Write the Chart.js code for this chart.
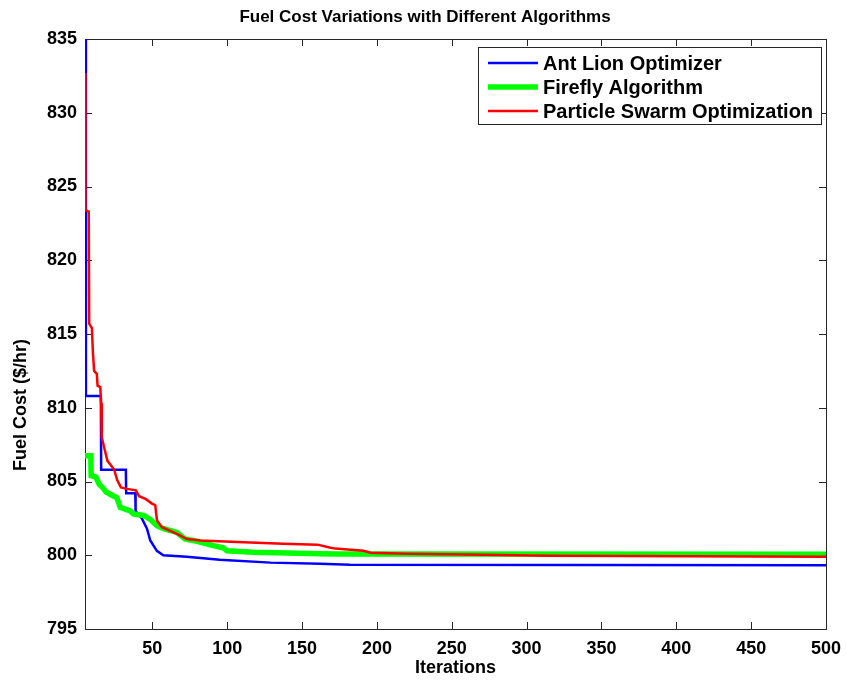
<!DOCTYPE html>
<html>
<head>
<meta charset="utf-8">
<script src="https://cdn.jsdelivr.net/npm/chart.js@4.4.0/dist/chart.umd.min.js"></script>
<style>
  html, body { margin: 0; padding: 0; background: #fff; }
</style>
</head>
<body>
<canvas id="fuelChart" width="847" height="681"></canvas>
<script>
// values (iteration, $/hr)
const aloIter = [5.5, 5.6, 15.6, 15.8, 32.3, 32.5, 38.6, 38.8, 43, 46.4, 48.6, 53, 57.3, 73, 95, 129, 162, 182, 500];
const aloCost = [845, 810.8, 810.8, 805.8, 805.8, 804.2, 804.2, 803.0, 802.5, 801.8, 801.0, 800.3, 800.0, 799.9, 799.7, 799.5, 799.43, 799.36, 799.32];

const faIter = [5, 8.9, 9.1, 12.3, 14.5, 16.7, 19, 23.4, 26.3, 28.5, 35.2, 37.4, 44.1, 48.4, 53.1, 57.5, 66.4, 71.8, 79.8, 90.7, 97.4, 99.9, 117.4, 140, 162, 172, 500];
const faCost = [806.75, 806.75, 805.4, 805.3, 804.8, 804.6, 804.3, 804.05, 803.9, 803.25, 803.0, 802.8, 802.7, 802.45, 802.0, 801.8, 801.55, 801.1, 800.95, 800.65, 800.5, 800.3, 800.2, 800.15, 800.1, 800.08, 800.06];

const psoIter = [5, 5.3, 7.5, 7.8, 9.6, 10.3, 11.1, 12.9, 13.4, 15.2, 15.8, 16.2, 17.8, 20, 22.3, 24.5, 26.5, 29, 33.2, 39, 41.2, 45.7, 49.7, 51.9, 53.1, 56.4, 60.8, 66.4, 73.1, 82, 106.7, 137.5, 160.3, 169, 172.3, 191, 195.8, 220, 271, 316, 500];
const psoCost = [832.7, 823.4, 823.3, 815.7, 815.4, 813.7, 812.5, 812.3, 811.5, 811.4, 810.3, 808.0, 807.3, 806.4, 806.1, 805.8, 805.1, 804.6, 804.5, 804.4, 804.0, 803.8, 803.5, 803.4, 802.35, 801.9, 801.7, 801.45, 801.1, 801.0, 800.9, 800.78, 800.72, 800.51, 800.45, 800.31, 800.17, 800.1, 800.04, 799.97, 799.9];

const xTicks = [50, 100, 150, 200, 250, 300, 350, 400, 450, 500];
const yTicks = [795, 800, 805, 810, 815, 820, 825, 830, 835];

const seriesNames = ['Ant Lion Optimizer', 'Firefly Algorithm', 'Particle Swarm Optimization'];

const FONT = '"Liberation Sans", Arial, sans-serif';
Chart.defaults.font.family = FONT;

const toPoints = (xs, ys) => xs.map((x, i) => ({ x: x, y: ys[i] }));

// box, inward ticks, titles and the legend, MATLAB style
const frame = {
  id: 'frame',
  beforeDatasetsDraw(chart) {
    const { ctx, chartArea: a, scales: { x, y } } = chart;
    ctx.save();
    ctx.strokeStyle = '#262626';
    ctx.lineWidth = 1;
    ctx.strokeRect(Math.round(a.left) + 0.5, Math.round(a.top) + 0.5, Math.round(a.width), Math.round(a.height));
    ctx.beginPath();
    xTicks.forEach(v => {
      const px = Math.round(x.getPixelForValue(v)) + 0.5;
      ctx.moveTo(px, a.bottom); ctx.lineTo(px, a.bottom - 7);
      ctx.moveTo(px, a.top); ctx.lineTo(px, a.top + 7);
    });
    yTicks.forEach(v => {
      const py = Math.round(y.getPixelForValue(v)) + 0.5;
      ctx.moveTo(a.left, py); ctx.lineTo(a.left + 7, py);
      ctx.moveTo(a.right, py); ctx.lineTo(a.right - 7, py);
    });
    ctx.stroke();
    ctx.restore();
  },
  afterDatasetsDraw(chart) {
    const { ctx, chartArea: a } = chart;
    ctx.save();
    ctx.fillStyle = '#000';
    ctx.textAlign = 'center';
    ctx.textBaseline = 'middle';
    ctx.font = 'bold 17px ' + FONT;
    ctx.fillText('Fuel Cost Variations with Different Algorithms', 425, 17);
    ctx.font = 'bold 18px ' + FONT;
    ctx.fillText('Iterations', (a.left + a.right) / 2, 668);
    ctx.translate(21, 405);
    ctx.rotate(-Math.PI / 2);
    ctx.fillText('Fuel Cost ($/hr)', 0, 0);
    ctx.restore();

    // legend box
    ctx.save();
    const bx = 478.5, by = 47.5, bw = 343, bh = 77;
    ctx.fillStyle = '#fff';
    ctx.fillRect(bx, by, bw, bh);
    ctx.strokeStyle = '#262626';
    ctx.lineWidth = 1;
    ctx.strokeRect(bx, by, bw, bh);
    ctx.font = 'bold 20px ' + FONT;
    ctx.textBaseline = 'middle';
    ctx.textAlign = 'left';
    chart.data.datasets.forEach((ds, i) => {
      const ry = 63 + i * 24;
      ctx.strokeStyle = ds.borderColor;
      ctx.lineWidth = ds.borderWidth;
      ctx.beginPath();
      ctx.moveTo(488, ry); ctx.lineTo(538, ry);
      ctx.stroke();
      ctx.fillStyle = '#000';
      ctx.fillText(ds.label, 543, ry + 1);
    });
    ctx.restore();
  }
};

new Chart(document.getElementById('fuelChart'), {
  type: 'line',
  data: {
    datasets: [
      { label: seriesNames[0], data: toPoints(aloIter, aloCost), borderColor: '#0000ff', borderWidth: 2.5, order: 3 },
      { label: seriesNames[1], data: toPoints(faIter, faCost), borderColor: '#00ff00', borderWidth: 5.5, order: 2 },
      { label: seriesNames[2], data: toPoints(psoIter, psoCost), borderColor: '#ff0000', borderWidth: 2.5, order: 1 }
    ]
  },
  options: {
    responsive: false,
    animation: false,
    events: [],
    layout: { padding: { top: 39, right: 21, left: 0, bottom: 0 } },
    elements: { point: { radius: 0 }, line: { tension: 0, borderCapStyle: 'butt' } },
    datasets: { line: { clip: 0 } },
    plugins: { legend: { display: false }, tooltip: { enabled: false }, title: { display: false } },
    scales: {
      x: {
        type: 'linear', min: 5, max: 500,
        afterBuildTicks: s => { s.ticks = xTicks.map(v => ({ value: v })); },
        afterFit: s => { s.height = 52; s.paddingLeft = 0; s.paddingRight = 0; },
        grid: { display: false, drawTicks: false },
        border: { display: false },
        ticks: { color: '#000', font: { size: 18, weight: 'bold' }, padding: 9, maxRotation: 0, autoSkip: false }
      },
      y: {
        type: 'linear', min: 795, max: 835,
        afterBuildTicks: s => { s.ticks = yTicks.map(v => ({ value: v })); },
        afterFit: s => { s.width = 85; },
        grid: { display: false, drawTicks: false },
        border: { display: false },
        ticks: { color: '#000', font: { size: 18, weight: 'bold' }, padding: 8 }
      }
    }
  },
  plugins: [frame]
});
</script>
</body>
</html>
